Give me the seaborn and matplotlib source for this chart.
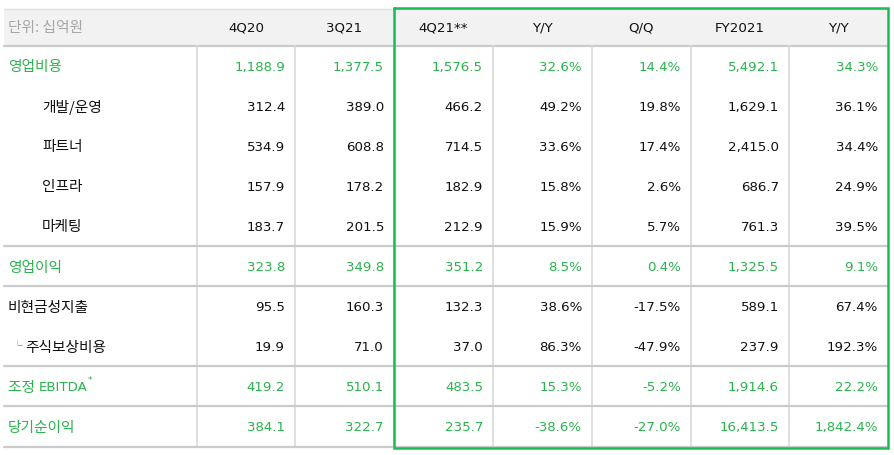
import matplotlib
matplotlib.use("Agg")
import matplotlib.pyplot as plt
import seaborn as sns

# ---------------- data ----------------
unit_label = "단위: 십억원"
columns = ["4Q20", "3Q21", "4Q21**", "Y/Y", "Q/Q", "FY2021", "Y/Y"]
rows = ["영업비용", "개발/운영", "파트너", "인프라", "마케팅",
        "영업이익", "비현금성지출", "주식보상비용", "조정 EBITDA", "당기순이익"]
q4_20 = [1188.9, 312.4, 534.9, 157.9, 183.7, 323.8, 95.5, 19.9, 419.2, 384.1]
q3_21 = [1377.5, 389.0, 608.8, 178.2, 201.5, 349.8, 160.3, 71.0, 510.1, 322.7]
q4_21 = [1576.5, 466.2, 714.5, 182.9, 212.9, 351.2, 132.3, 37.0, 483.5, 235.7]
yoy = [32.6, 49.2, 33.6, 15.8, 15.9, 8.5, 38.6, 86.3, 15.3, -38.6]
qoq = [14.4, 19.8, 17.4, 2.6, 5.7, 0.4, -17.5, -47.9, -5.2, -27.0]
fy2021 = [5492.1, 1629.1, 2415.0, 686.7, 761.3, 1325.5, 589.1, 237.9, 1914.6, 16413.5]
fy_yoy = [34.3, 36.1, 34.4, 24.9, 39.5, 9.1, 67.4, 192.3, 22.2, 1842.4]
highlight_rows = [0, 5, 8, 9]
indent_rows = [1, 2, 3, 4]
sub_rows = [7]
superscript_rows = {8: "*"}

# ---------------- style ----------------
sns.set_theme(style="white")
plt.rcParams["font.family"] = ["Noto Sans CJK KR", "DejaVu Sans"]

KR = ["Noto Sans CJK KR", "DejaVu Sans"]
LAT = ["DejaVu Sans", "Noto Sans CJK KR"]
GREEN_TXT = "#2bb34d"
GREEN_BOX = "#1dbb55"
GRID = "#d9d9d9"
HLINE = "#cbcbcb"
BLACK = "#111111"
FS = 9.6
FS_KR = 10.6
KR_WEIGHT = "medium"

W, H = 895, 456
fig = plt.figure(figsize=(W / 100, H / 100), dpi=100)
ax = fig.add_axes([0, 0, 1, 1])
ax.set_xlim(0, W)
ax.set_ylim(H, 0)
ax.axis("off")
fig.canvas.draw()
renderer = fig.canvas.get_renderer()
inv = ax.transData.inverted()


def text_end(t):
    bb = t.get_window_extent(renderer=renderer)
    return inv.transform((bb.x1, bb.y1))[0]


def label(x, y, s, color):
    """Draw a label: Hangul runs in the CJK font, Latin runs in DejaVu."""
    parts = []
    cur = ""
    cur_kr = None
    for ch in s:
        kr = ('\uac00' <= ch <= '\ud7a3') or ch in "/:"
        if ch == " " and cur_kr is not None:
            kr = cur_kr
        if cur_kr is None or kr == cur_kr:
            cur += ch
            cur_kr = kr
        else:
            parts.append((cur, cur_kr))
            cur, cur_kr = ch, kr
    if cur:
        parts.append((cur, cur_kr))
    for seg, kr in parts:
        t = ax.text(x, y, seg, ha="left", va="center",
                    fontsize=FS_KR if kr else FS,
                    fontweight=KR_WEIGHT if kr else "normal",
                    family=KR if kr else LAT, color=color)
        x = text_end(t)
    return x


# layout
left, right = 4, 888
col_edges = [197, 295, 394, 493, 592, 691, 789, 888]
head_top, head_bot = 9.5, 46.5
row_h = 40.1
body_top = 47
group_lines = [247, 287, 367, 407, 448]

# header band
ax.fill_between([left, right], head_top, head_bot, color="#f2f2f2", zorder=0, lw=0)
ax.plot([left, right], [head_top, head_top], color="#e2e2e2", lw=1.0, zorder=1)
ax.plot([left, right], [head_bot, head_bot], color=HLINE, lw=1.6, zorder=1)

# vertical grid lines in body
for x in col_edges[:-1]:
    ax.plot([x, x], [head_bot, group_lines[-1]], color=GRID, lw=1.2, zorder=1)
# horizontal group separators
for y in group_lines:
    ax.plot([left, right], [y, y], color=HLINE, lw=1.6, zorder=1)

# header texts
hy = (head_top + head_bot) / 2
ax.text(8, hy, unit_label, ha="left", va="center", fontsize=FS_KR,
        family=KR, color="#a6a6a6")
for j, c in enumerate(columns):
    cx = (col_edges[j] + col_edges[j + 1]) / 2
    ax.text(cx, hy, c, ha="center", va="center", fontsize=FS,
            family=LAT, color=BLACK)

# body
series = [q4_20, q3_21, q4_21, yoy, qoq, fy2021, fy_yoy]
is_pct = [False, False, False, True, True, False, True]
for i, name in enumerate(rows):
    cy = body_top + row_h * (i + 0.5)
    col = GREEN_TXT if i in highlight_rows else BLACK
    if i in indent_rows:
        label(42, cy, name, col)
    elif i in sub_rows:
        ax.text(12, cy - 1, "└", ha="left", va="center", fontsize=7,
                family=KR, color="#8a8a8a")
        label(25, cy, name, col)
    else:
        xe = label(8, cy, name, col)
        if i in superscript_rows:
            ax.text(xe + 0.5, cy - 7, superscript_rows[i], ha="left",
                    va="center", fontsize=6.5, family=LAT, color=col)
    for j, s in enumerate(series):
        v = s[i]
        txt = f"{v:,.1f}%" if is_pct[j] else f"{v:,.1f}"
        ax.text(col_edges[j + 1] - 10, cy, txt, ha="right", va="center",
                fontsize=FS, family=LAT, color=col)

# green highlight box
bx0, bx1 = col_edges[2], right
ax.plot([bx0, bx1, bx1, bx0, bx0],
        [head_top - 0.5, head_top - 0.5, group_lines[-1] + 1,
         group_lines[-1] + 1, head_top - 0.5],
        color=GREEN_BOX, lw=1.8, zorder=5, solid_joinstyle="miter")

fig.savefig("out.png", dpi=100)
